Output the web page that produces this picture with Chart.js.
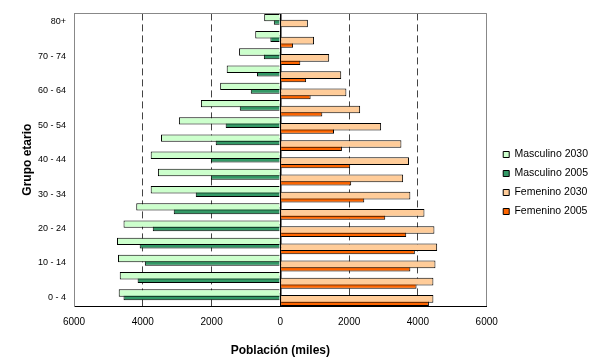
<!DOCTYPE html>
<html>
<head>
<meta charset="utf-8">
<script src="https://cdn.jsdelivr.net/npm/chart.js@4/dist/chart.umd.min.js"></script>
<style>
  html,body{margin:0;padding:0;background:#fff;}
  #wrap{width:594px;height:358px;position:relative;}
</style>
</head>
<body>
<div id="wrap"><canvas id="pyramid"></canvas></div>
<script>
/* ===== Data (miles) ===== */
const ageGroups = ["0 - 4","5 - 9","10 - 14","15 - 19","20 - 24","25 - 29","30 - 34","35 - 39",
  "40 - 44","45 - 49","50 - 54","55 - 59","60 - 64","65 - 69","70 - 74","75 - 79","80+"];
const male2030   = [4700,4670,4720,4750,4560,4190,3770,3560,3770,3470,2950,2310,1750,1560,1200,730,470];
const male2005   = [4560,4150,3940,4090,3710,3100,2460,2020,2020,1880,1590,1180,860,680,480,290,190];
const female2030 = [4450,4450,4510,4560,4480,4190,3780,3570,3740,3520,2930,2320,1920,1770,1420,980,800];
const female2005 = [4320,3960,3780,3910,3660,3050,2440,2060,2030,1790,1560,1220,880,750,580,370,0];
const xTicks = [-6000,-4000,-2000,0,2000,4000,6000];

/* oldest group on top */
const rev = a => a.slice().reverse();
const labels = rev(ageGroups);

const FONT = "'Liberation Sans', Arial, sans-serif";
Chart.defaults.font.family = FONT;
Chart.defaults.color = "#000";

/* push legend a bit away from the plot area */
const legendGap = {
  id: "legendGap",
  afterLayout(chart){
    chart.legend.left += 8;
    chart.legend.right += 8;
  }
};

new Chart(document.getElementById("pyramid"), {
  type: "bar",
  data: {
    labels,
    datasets: [
      // categoryPercentage/barPercentage tuned so 2005 bars peek out under the 2030 ones
      {label:"Masculino 2030", data:rev(male2030).map(v=>-v), backgroundColor:"#ccffcc",
        borderColor:"#000", borderWidth:1, categoryPercentage:0.6845, barPercentage:2.5},
      {label:"Masculino 2005", data:rev(male2005).map(v=>-v), backgroundColor:"#339966",
        borderColor:"#000", borderWidth:1, categoryPercentage:0.4107, barPercentage:4.167},
      {label:"Femenino 2030", data:rev(female2030), backgroundColor:"#ffcc99",
        borderColor:"#000", borderWidth:1, categoryPercentage:0.6845, barPercentage:2.6},
      {label:"Femenino 2005", data:rev(female2005), backgroundColor:"#ff6600",
        borderColor:"#000", borderWidth:1, categoryPercentage:0.7455, barPercentage:2.296}
    ]
  },
  options: {
    indexAxis: "y",
    responsive: true,
    maintainAspectRatio: false,
    animation: false,
    layout: {padding:{top:8, left:0, right:4, bottom:0}},
    scales: {
      x: {
        min: -6000, max: 6000,
        afterBuildTicks: s => { s.ticks = xTicks.map(v=>({value:v})); },
        afterFit: s => { s.height = 52; },
        ticks: {
          padding: 10,
          font: {size:10},
          callback: v => Math.abs(v)
        },
        grid: {
          drawTicks: false,
          color: c => c.tick && c.tick.value === 0 ? "#000" :
                      (c.tick && Math.abs(c.tick.value) === 6000 ? "#888" : "#444"),
          lineWidth: c => c.tick && c.tick.value === 0 ? 1.5 : 1
        },
        border: {
          display: true, color: "#000", width: 1,
          dash: c => c.tick && c.tick.value % 6000 !== 0 ? [7,4] : []
        },
        title: {
          display: true, text: "Población (miles)",
          font: {size:12, weight:"bold"},
          padding: {top:7.8, bottom:0}
        }
      },
      y: {
        afterFit: s => { s.width = 74; },
        ticks: {
          autoSkip: false,
          padding: 8,
          font: {size:9},
          callback: (v,i) => i % 2 ? "" : labels[i]
        },
        grid: {
          drawTicks: false,
          color: c => c.index === 0 ? "#888" : "rgba(0,0,0,0)"
        },
        border: {display:true, color:"#888", width:1},
        title: {
          display: true, text: "Grupo etario",
          font: {size:12, weight:"bold"},
          padding: {top:20.8, bottom:0}
        }
      }
    },
    plugins: {
      legend: {
        position: "right",
        align: "center",
        labels: {
          boxWidth: 6, boxHeight: 6,
          padding: 8.5,
          color: "#000",
          font: {size:10.5}
        }
      },
      tooltip: {enabled:false}
    }
  },
  plugins: [legendGap]
});
</script>
</body>
</html>
